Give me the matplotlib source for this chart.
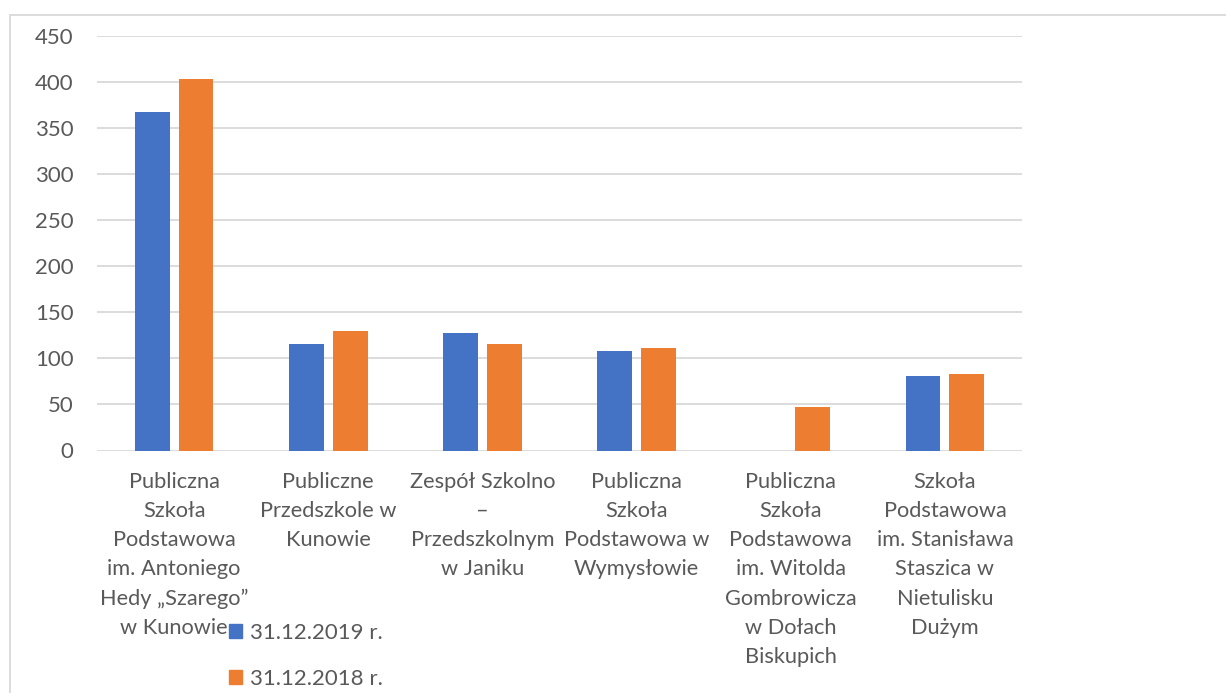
import matplotlib
matplotlib.use("Agg")
import matplotlib.pyplot as plt
import numpy as np
from matplotlib.patches import Rectangle, Patch

categories = [
    "Publiczna\nSzkoła\nPodstawowa\nim. Antoniego\nHedy „Szarego”\nw Kunowie",
    "Publiczne\nPrzedszkole w\nKunowie",
    "Zespół Szkolno\n–\nPrzedszkolnym\nw Janiku",
    "Publiczna\nSzkoła\nPodstawowa w\nWymysłowie",
    "Publiczna\nSzkoła\nPodstawowa\nim. Witolda\nGombrowicza\nw Dołach\nBiskupich",
    "Szkoła\nPodstawowa\nim. Stanisława\nStaszica w\nNietulisku\nDużym",
]
series_names = ["31.12.2019 r.", "31.12.2018 r."]
values_2019 = [367, 116, 128, 108, 0, 81]
values_2018 = [403, 130, 116, 111, 47, 83]
yticks = [0, 50, 100, 150, 200, 250, 300, 350, 400, 450]

plt.rcParams['font.family'] = ['Lato', 'DejaVu Sans']
TXT = '#595959'
GRID = '#d9d9d9'
BLUE = '#4472C4'
ORANGE = '#ED7D31'

fig = plt.figure(figsize=(12.26, 6.93), dpi=100)
ax = fig.add_axes([97/1226, 1-450.5/693, (1022-97)/1226, (450.5-36)/693])

x = np.arange(len(categories))
w = 0.226
off = 0.142
ax.bar(x - off, values_2019, width=w, color=BLUE, label=series_names[0], zorder=3)
ax.bar(x + off, values_2018, width=w, color=ORANGE, label=series_names[1], zorder=3)

ax.set_xlim(-0.5, len(categories) - 0.5)
ax.set_ylim(0, 450)
ax.set_yticks(yticks)
ax.set_yticklabels([str(v) for v in yticks])
ax.yaxis.grid(True, color=GRID, linewidth=1.3, zorder=0)
ax.set_axisbelow(True)
for s in ax.spines.values():
    s.set_visible(False)
ax.tick_params(axis='y', length=0, pad=17, labelsize=16, labelcolor=TXT)
ax.tick_params(axis='x', length=0, pad=15.5, labelsize=15.7, labelcolor=TXT)
ax.set_xticks(x)
ax.set_xticklabels(categories, linespacing=1.57)

handles = [Patch(color=BLUE), Patch(color=ORANGE)]
leg = fig.legend(handles, series_names, loc='upper left',
                 bbox_to_anchor=(218/1226, 1-612/693), frameon=False,
                 fontsize=16, handlelength=0.6, handleheight=0.6,
                 handletextpad=0.35, labelspacing=1.15, borderpad=0)
for t in leg.get_texts():
    t.set_color(TXT)

fig.patches.append(Rectangle((9.5/1226, -0.1), 2, 1 - 14.5/693 + 0.1,
                             transform=fig.transFigure, fill=False,
                             edgecolor=GRID, linewidth=1.3))

fig.savefig("out.png", dpi=100)
